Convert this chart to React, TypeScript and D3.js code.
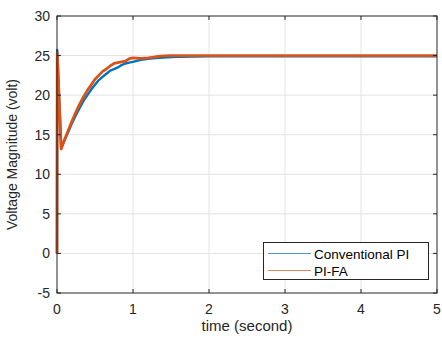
import { useEffect, useRef } from "react";
import * as d3 from "d3";

// time axis samples (s)
const timeConv = [0, 0.003, 0.055, 0.1, 0.15, 0.2, 0.25, 0.3, 0.35, 0.4, 0.45, 0.5, 0.55, 0.6, 0.65, 0.7, 0.75, 0.8, 0.85, 0.9, 0.95, 1.0, 1.1, 1.2, 1.3, 1.4, 1.5, 1.6, 2.0, 5.0];
const voltConv = [0, 25.7, 13.4, 14.3, 15.4, 16.5, 17.5, 18.4, 19.3, 20.0, 20.7, 21.3, 21.9, 22.3, 22.7, 23.1, 23.3, 23.5, 23.8, 24.0, 24.1, 24.2, 24.45, 24.6, 24.7, 24.75, 24.8, 24.85, 24.9, 24.9];

const timeFA = [0, 0.003, 0.055, 0.1, 0.15, 0.2, 0.25, 0.3, 0.35, 0.4, 0.45, 0.5, 0.55, 0.6, 0.65, 0.7, 0.75, 0.8, 0.85, 0.9, 0.95, 1.0, 1.1, 1.2, 1.3, 1.4, 1.5, 1.6, 2.0, 5.0];
const voltFA = [0, 25.3, 13.2, 14.4, 15.6, 16.8, 17.9, 18.9, 19.8, 20.6, 21.3, 22.0, 22.5, 23.0, 23.3, 23.7, 24.0, 24.1, 24.2, 24.3, 24.6, 24.7, 24.65, 24.7, 24.85, 24.95, 25.0, 25.0, 25.0, 25.0];

const xTicks = [0, 1, 2, 3, 4, 5];
const yTicks = [-5, 0, 5, 10, 15, 20, 25, 30];
const seriesNames = ["Conventional PI", "PI-FA"];
const seriesColors = ["#0072BD", "#D95319"];

export default function App() {
    const ref = useRef<SVGSVGElement>(null);

    useEffect(() => {
        const svg = d3.select(ref.current);
        svg.selectAll("*").remove();

        const left = 57, right = 437, top = 16, bottom = 293;
        const font = "Liberation Sans, Arial, sans-serif";

        const x = d3.scaleLinear().domain([0, 5]).range([left, right]);
        const y = d3.scaleLinear().domain([-5, 30]).range([bottom, top]);

        svg.append("rect").attr("width", 442).attr("height", 338).attr("fill", "white");

        // grid
        const grid = svg.append("g").attr("stroke", "#e3e3e3").attr("stroke-width", 1);
        xTicks.slice(1, -1).forEach(t => {
            grid.append("line").attr("x1", x(t)).attr("x2", x(t)).attr("y1", top).attr("y2", bottom);
        });
        yTicks.slice(1, -1).forEach(t => {
            grid.append("line").attr("x1", left).attr("x2", right).attr("y1", y(t)).attr("y2", y(t));
        });

        const line = d3.line<[number, number]>().x(d => x(d[0])).y(d => y(d[1]));
        const plot = svg.append("g");
        const sets = [
            timeConv.map((t, i) => [t, voltConv[i]] as [number, number]),
            timeFA.map((t, i) => [t, voltFA[i]] as [number, number]),
        ];
        sets.forEach((pts, i) => {
            plot.append("path")
                .attr("d", line(pts))
                .attr("fill", "none")
                .attr("stroke", seriesColors[i])
                .attr("stroke-width", i === 1 ? 2.8 : 2.4)
                .attr("stroke-linejoin", "round");
        });

        // axes box
        const ax = svg.append("g").attr("fill", "none").attr("stroke", "#262626").attr("stroke-width", 1);
        ax.append("rect")
            .attr("x", left).attr("y", top)
            .attr("width", right - left).attr("height", bottom - top);

        // ticks (inward, on all four sides)
        xTicks.forEach(t => {
            ax.append("line").attr("x1", x(t)).attr("x2", x(t)).attr("y1", bottom).attr("y2", bottom - 4);
            ax.append("line").attr("x1", x(t)).attr("x2", x(t)).attr("y1", top).attr("y2", top + 4);
        });
        yTicks.forEach(t => {
            ax.append("line").attr("x1", left).attr("x2", left + 4).attr("y1", y(t)).attr("y2", y(t));
            ax.append("line").attr("x1", right).attr("x2", right - 4).attr("y1", y(t)).attr("y2", y(t));
        });

        const labels = svg.append("g").attr("fill", "#262626").style("font-family", font).style("font-size", "14px");
        xTicks.forEach(t => {
            labels.append("text").attr("x", x(t)).attr("y", 314).attr("text-anchor", "middle").text(t);
        });
        yTicks.forEach(t => {
            labels.append("text").attr("x", left - 7).attr("y", y(t) + 5).attr("text-anchor", "end").text(t);
        });

        svg.append("text")
            .attr("x", (left + right) / 2).attr("y", 331)
            .attr("text-anchor", "middle")
            .attr("fill", "#262626")
            .style("font-family", font).style("font-size", "15px")
            .text("time (second)");

        svg.append("text")
            .attr("transform", `translate(17,${(top + bottom) / 2}) rotate(-90)`)
            .attr("text-anchor", "middle")
            .attr("fill", "#262626")
            .style("font-family", font).style("font-size", "14px")
            .text("Voltage Magnitude (volt)");

        // legend
        const lg = svg.append("g");
        lg.append("rect")
            .attr("x", 263.5).attr("y", 242.5).attr("width", 165).attr("height", 37)
            .attr("fill", "white").attr("stroke", "#262626").attr("stroke-width", 1);
        seriesNames.forEach((name, i) => {
            const yy = 253.5 + i * 17;
            lg.append("line").attr("x1", 268).attr("x2", 311).attr("y1", yy).attr("y2", yy)
                .attr("stroke", seriesColors[i]).attr("stroke-width", 1.2).attr("opacity", 0.7);
            lg.append("text").attr("x", 314).attr("y", yy + 5)
                .attr("fill", "#000").style("font-family", font).style("font-size", "13.5px")
                .text(name);
        });
    }, []);

    return (
        <svg ref={ref} width={442} height={338} style={{ position: "absolute", left: 0, top: 0 }} />
    );
}
